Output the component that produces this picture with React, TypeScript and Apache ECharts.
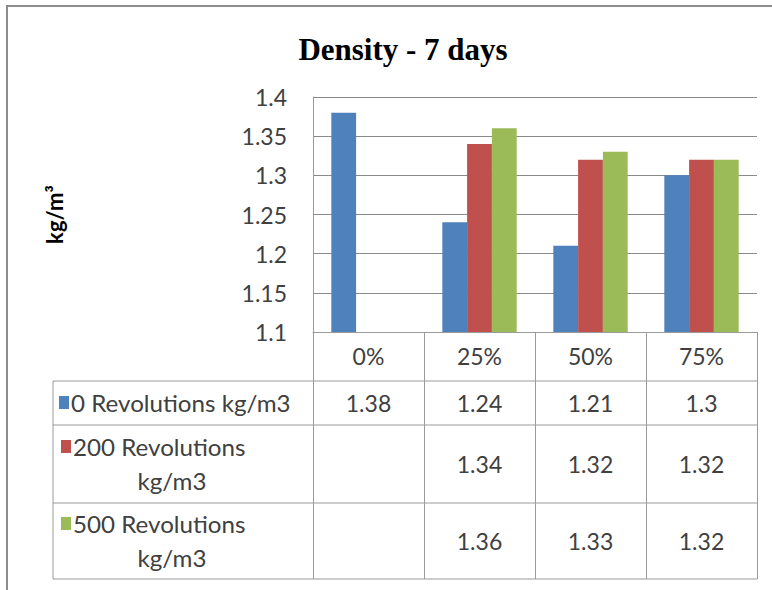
import React, { useEffect, useRef } from 'react';
import * as echarts from 'echarts';

const categories = ['0%', '25%', '50%', '75%'];
const seriesNames = ['0 Revolutions kg/m3', '200 Revolutions kg/m3', '500 Revolutions kg/m3'];
const legendLines = [['0 Revolutions kg/m3'], ['200 Revolutions', 'kg/m3'], ['500 Revolutions', 'kg/m3']];
const rev0: (number | null)[] = [1.38, 1.24, 1.21, 1.3];
const rev200: (number | null)[] = [null, 1.34, 1.32, 1.32];
const rev500: (number | null)[] = [null, 1.36, 1.33, 1.32];
const yMin = 1.1;
const yMax = 1.4;
const yInterval = 0.05;
const colors = ['#4F81BD', '#C0504D', '#9BBB59'];

const FONT = 'Lato, "Noto Sans", sans-serif';
const TXT = '#404040';
const LINE = '#9a9a9a';
const FS = 23;

export default function App() {
  const ref = useRef<HTMLDivElement>(null);
  useEffect(() => {
    document.body.style.margin = '0';
    const chart = echarts.init(ref.current!, undefined, { renderer: 'svg' });
    const rows = [rev0, rev200, rev500];
    const gridLeft = 313;
    const gridRight = 757;
    const axisY = 332;
    const rowBounds = [381, 425, 503, 579];
    const tableLeft = 53;
    const rowOffsets = rowBounds.slice(0, 3).map((b, i) => (b + rowBounds[i + 1]) / 2 - axisY);

    const graphics: any[] = [
      { type: 'rect', shape: { x: 7, y: 6, width: 800, height: 620 }, style: { fill: 'none', stroke: '#8c8c8c', lineWidth: 2 }, silent: true },
    ];
    rowBounds.forEach((y) => {
      graphics.push({ type: 'line', shape: { x1: tableLeft, y1: y, x2: gridRight, y2: y }, style: { stroke: LINE, lineWidth: 1 } });
    });
    graphics.push({ type: 'line', shape: { x1: tableLeft, y1: rowBounds[0], x2: tableLeft, y2: rowBounds[3] }, style: { stroke: LINE, lineWidth: 1 } });

    const txtStyle = (text: string, align: string) => ({ text, font: `${FS}px ${FONT}`, fill: TXT, textAlign: align, textVerticalAlign: 'middle' });

    legendLines.forEach((lines, i) => {
      const top = rowBounds[i];
      const bottom = rowBounds[i + 1];
      const mid = (top + bottom) / 2;
      if (lines.length === 1) {
        graphics.push({ type: 'rect', shape: { x: 59, y: mid - 7, width: 10, height: 13 }, style: { fill: colors[i] } });
        graphics.push({ type: 'text', x: 71, y: mid, scaleX: 1.05, style: txtStyle(lines[0], 'left') });
      } else {
        const l1 = mid - 17;
        const l2 = mid + 17;
        graphics.push({ type: 'rect', shape: { x: 61, y: l1 - 7, width: 10, height: 13 }, style: { fill: colors[i] } });
        graphics.push({ type: 'text', x: 73, y: l1, scaleX: 1.05, style: txtStyle(lines[0], 'left') });
        graphics.push({ type: 'text', x: 172, y: l2, scaleX: 1.05, style: txtStyle(lines[1], 'center') });
      }
    });

    const fmt = (v: number | null) => (v == null ? '' : String(v));

    const rowAxes = rows.map((row, r) => ({
      type: 'category',
      data: categories,
      position: 'bottom',
      offset: rowOffsets[r],
      axisLine: { show: false },
      axisTick: { show: false },
      splitLine: { show: false },
      axisLabel: {
        margin: 0,
        verticalAlign: 'middle',
        color: TXT,
        fontSize: FS,
        fontFamily: FONT,
        interval: 0,
        formatter: (_v: string, i: number) => fmt(row[i]),
      },
    }));

    chart.setOption({
      animation: false,
      backgroundColor: '#ffffff',
      title: {
        text: 'Density - 7 days',
        left: 398,
        top: 29,
        textAlign: 'center',
        textStyle: { fontFamily: '"Liberation Serif", "DejaVu Serif", serif', fontWeight: 'bold', fontSize: 31, color: '#000' },
      },
      grid: { left: gridLeft, right: 772 - gridRight, top: 97, bottom: 590 - axisY },
      xAxis: [
        {
          type: 'category',
          data: categories,
          axisLine: { show: true, lineStyle: { color: LINE, width: 1 } },
          axisTick: { show: true, length: rowBounds[3] - axisY, lineStyle: { color: LINE, width: 1 } },
          axisLabel: { margin: 24, verticalAlign: 'middle', color: TXT, fontSize: FS, fontFamily: FONT, interval: 0 },
        },
        ...rowAxes,
      ],
      yAxis: {
        type: 'value',
        min: yMin,
        max: yMax,
        interval: yInterval,
        name: 'kg/m³',
        nameLocation: 'middle',
        nameGap: 248,
        nameRotate: 90,
        nameTextStyle: { fontFamily: FONT, fontWeight: 'bold', fontSize: 22, color: '#000' },
        axisLine: { show: true, lineStyle: { color: LINE } },
        axisTick: { show: false },
        splitLine: { show: true, lineStyle: { color: '#8a8a8a', width: 1 } },
        axisLabel: {
          margin: 26,
          color: TXT,
          fontSize: FS,
          fontFamily: FONT,
          formatter: (v: number) => String(+v.toFixed(2)),
        },
      },
      series: [rev0, rev200, rev500].map((d, i) => ({
        type: 'bar',
        name: seriesNames[i],
        data: d,
        xAxisIndex: 0,
        barGap: '0%',
        barCategoryGap: '33%',
        itemStyle: { color: colors[i] },
      })),
      graphic: graphics,
    });
    return () => chart.dispose();
  }, []);
  return <div ref={ref} style={{ position: 'fixed', left: 0, top: 0, width: 772, height: 590 }} />;
}
